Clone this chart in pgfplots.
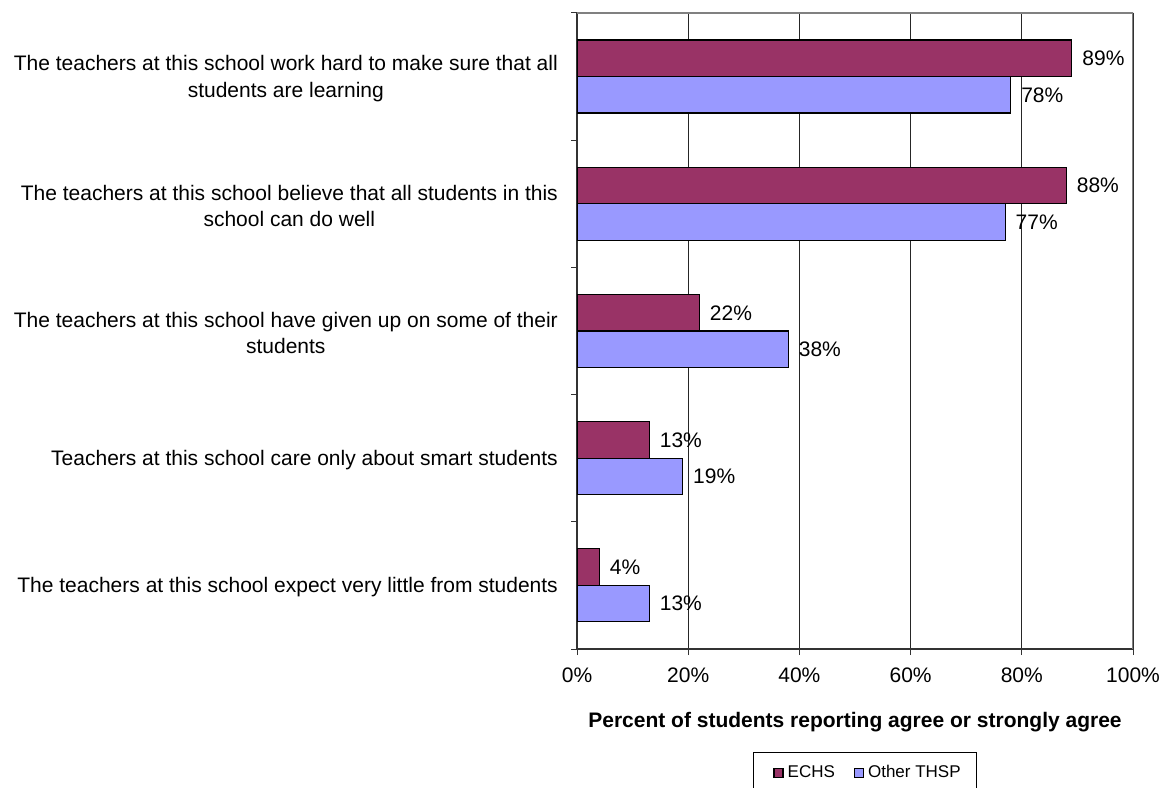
\documentclass[border=0pt]{standalone}
\usepackage{pgfplots}
\pgfplotsset{compat=1.18}
\usepackage{fontspec}
\setmainfont{Liberation Sans}
\definecolor{echs}{HTML}{993366}
\definecolor{thsp}{HTML}{9999FF}
\begin{document}
\fontsize{21bp}{26bp}\selectfont
\begin{tikzpicture}
\useasboundingbox (0,0) rectangle (1164bp,788bp);
\begin{axis}[
  at={(577bp,139bp)}, anchor=south west,
  scale only axis, width=556bp, height=636bp,
  xbar, bar width=36.5bp,
  xmin=0, xmax=100, ymin=0.5, ymax=5.5,
  axis x line*=bottom, axis y line*=left,
  axis line style={black!80, line width=1.2bp},
  tick align=outside,
  major tick length=6bp,
  tick style={black!80, line width=1bp},
  xtick={0,20,...,100},
  xticklabel={\pgfmathprintnumber{\tick}\%},
  x tick label style={font=\fontsize{21bp}{24bp}\selectfont, yshift=-6bp},
  /pgf/number format/assume math mode=true,
  xmajorgrids,
  grid style={black!85, line width=0.7bp},
  ytick={0.5,1.5,...,5.5},
  yticklabels={},
  extra y ticks={1,2,3,4,5},
  extra y tick labels={
    The teachers at this school expect very little from students,
    Teachers at this school care only about smart students,
    The teachers at this school have given up on some of their\\students,
    The teachers at this school believe that all students in this\\school can do well,
    The teachers at this school work hard to make sure that all\\students are learning},
  extra y tick style={major tick length=0pt, grid=none,
    yticklabel style={align=center, font=\fontsize{21bp}{26.5bp}\selectfont, xshift=-12bp, yshift=-2bp}},
  xlabel={\textbf{Percent of students reporting agree or strongly agree}},
  xlabel style={font=\fontsize{21bp}{24bp}\selectfont, yshift=-15bp},
  point meta=x,
  nodes near coords={\pgfmathprintnumber{\pgfplotspointmeta}\%},
  every node near coord/.append style={font=\fontsize{21bp}{24bp}\selectfont, xshift=3bp, black},
  legend style={at={(axis description cs:0.3165,-0.162)}, anchor=north west,
    legend columns=2, draw=black, line width=1bp,
    font=\fontsize{17bp}{20bp}\selectfont,
    inner xsep=14bp, inner ysep=11bp,
    /tikz/every even column/.append style={column sep=11bp}},
  legend image code/.code={\path (-6bp,0) (11bp,0);\draw[#1, draw=black, line width=1.2bp] (0bp,-4.5bp) rectangle (9bp,4.5bp);},
]
\addplot[fill=echs, draw=black, line width=1.2bp, bar shift=18.25bp]
  coordinates {(89,5) (88,4) (22,3) (13,2) (4,1)};
\addplot[fill=thsp, draw=black, line width=1.2bp, bar shift=-18.25bp]
  coordinates {(78,5) (77,4) (38,3) (19,2) (13,1)};
\legend{ECHS, Other THSP}
\draw[color=gray, line width=1.2bp] (rel axis cs:0,1) -- (rel axis cs:1,1) -- (rel axis cs:1,0);
\end{axis}
\end{tikzpicture}
\end{document}
